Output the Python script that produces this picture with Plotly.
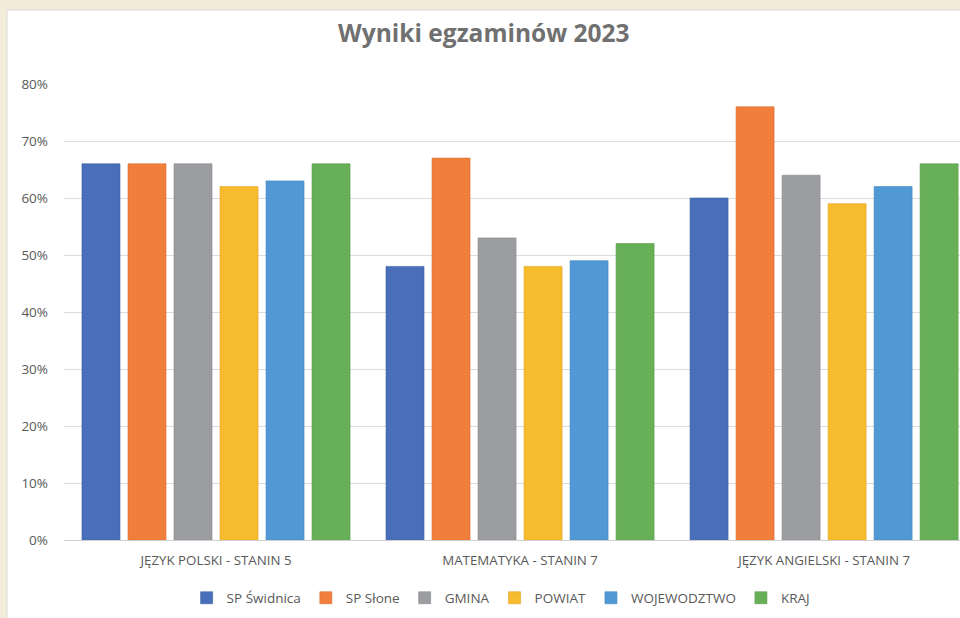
import plotly.graph_objects as go

categories = ["JĘZYK POLSKI - STANIN 5", "MATEMATYKA - STANIN 7", "JĘZYK ANGIELSKI - STANIN 7"]
series_names = ["SP Świdnica", "SP Słone", "GMINA", "POWIAT", "WOJEWODZTWO", "KRAJ"]
sp_swidnica = [0.66, 0.48, 0.60]
sp_slone = [0.66, 0.67, 0.76]
gmina = [0.66, 0.53, 0.64]
powiat = [0.62, 0.48, 0.59]
wojewodztwo = [0.63, 0.49, 0.62]
kraj = [0.66, 0.52, 0.66]
y_ticks = [0, 0.1, 0.2, 0.3, 0.4, 0.5, 0.6, 0.7, 0.8]

series_values = [sp_swidnica, sp_slone, gmina, powiat, wojewodztwo, kraj]
colors = ["#4A6FBA", "#F27E3C", "#9B9DA1", "#F7BB2E", "#5199D4", "#67B057"]
outline = ["#3C5E9E", "#D96C2E", "#86888C", "#DDA424", "#4386BE", "#57984A"]

fig = go.Figure()
for name, vals, c, oc in zip(series_names, series_values, colors, outline):
    fig.add_trace(go.Bar(
        x=categories, y=vals, name=name,
        marker=dict(color=c, line=dict(color=oc, width=0.6)),
        hovertemplate="%{x}<br>" + name + ": %{y:.0%}<extra></extra>",
    ))

FONT = "Open Sans, Liberation Sans, sans-serif"
fig.update_layout(
    width=960, height=618,
    margin=dict(l=64, r=0, t=84, b=78),
    paper_bgcolor="#F3ECDB",
    plot_bgcolor="rgba(0,0,0,0)",
    barmode="group",
    bargap=0.092,
    bargroupgap=0.174,
    font=dict(family=FONT, color="#595959", size=13),
    title=dict(text="<b>Wyniki egzaminów 2023</b>", x=0.504, xref="container", xanchor="center",
               y=1 - 33 / 618, yref="container", yanchor="middle",
               font=dict(family=FONT, size=24.5, color="#707070")),
    legend=dict(orientation="h", xref="container", yref="container", x=0.522, xanchor="center",
                y=1 - 598 / 618, yanchor="middle", font=dict(size=13.5, color="#595959"),
                itemwidth=30, traceorder="normal", bgcolor="rgba(0,0,0,0)"),
    xaxis=dict(range=[-0.5, 2.447], showgrid=False, showline=True, linecolor="#D0D0D0", linewidth=1,
               ticks="", tickfont=dict(size=13.3, color="#595959"), ticklabelstandoff=8, fixedrange=True),
    yaxis=dict(range=[0, 0.8], tickvals=y_ticks, tickformat=".0%", showgrid=True, gridcolor="#DCDCDC",
               gridwidth=1, zeroline=False, showline=False, ticks="", ticklabelstandoff=15,
               tickfont=dict(size=13.5, color="#595959"), fixedrange=True),
    shapes=[dict(type="rect", xref="paper", yref="paper", layer="below",
                 x0=(7 - 64) / 896, x1=1.05, y0=(540 - 640) / 456, y1=(540 - 10) / 456,
                 fillcolor="white", line=dict(color="#D9D9D9", width=1))],
)

fig.write_html(
    "out.html",
    config={"displayModeBar": False},
    post_script="document.body.style.margin='0';document.body.style.overflow='hidden';"
                "document.body.style.background='#F3ECDB';",
)
